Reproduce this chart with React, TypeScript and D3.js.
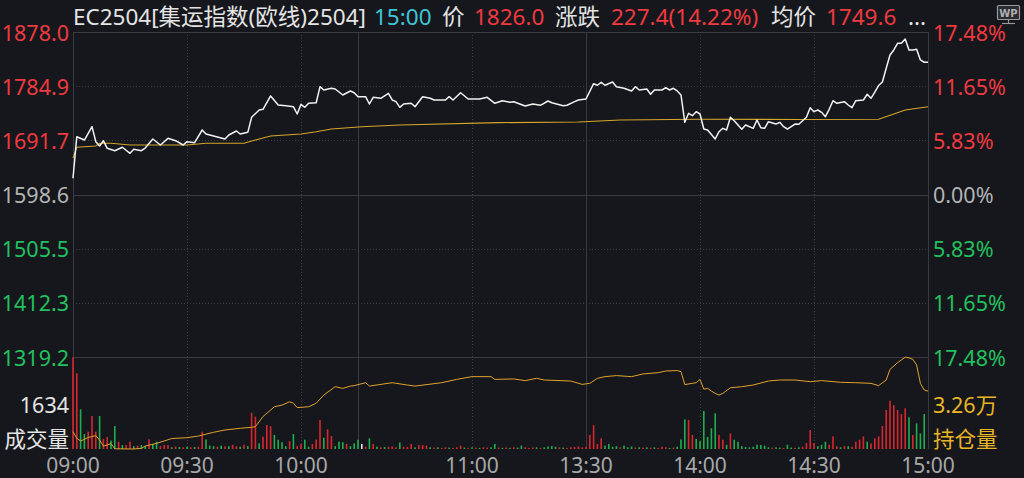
import React from "react";
import * as d3 from "d3";

// ---------- data ----------
const PREV_CLOSE = 1598.6;
const PRICE_MIN = 1319.2;
const PRICE_MAX = 1878.0;
const priceTicks = [1878.0, 1784.9, 1691.7, 1598.6, 1505.5, 1412.3, 1319.2];
const priceTickLabels = ["1878.0", "1784.9", "1691.7", "1598.6", "1505.5", "1412.3", "1319.2"];
const pctTickLabels = ["17.48%", "11.65%", "5.83%", "0.00%", "5.83%", "11.65%", "17.48%"];
const timeTicks = [0, 30, 60, 105, 135, 165, 195, 225];
const timeLabels = ["09:00", "09:30", "10:00", "11:00", "13:30", "14:00", "14:30", "15:00"];
const dottedV = [30, 60, 105, 165, 195];
const solidV = [75, 135];

// price line (minute index, price)
const priceMin = [0,1,3,5,6,7,8,9,11,13,15,16,18,19,21,23,25,27,29,30,32,34,35,37,40,41,43,44,46,47,49,50,52,54,56,58,59,60,61,62,64,65,66,68,69,71,73,74,75,77,78,79,81,83,84,85,86,87,89,90,92,94,95,98,99,100,102,104,107,109,111,113,115,116,119,121,123,125,126,129,130,132,133,135,137,138,139,140,142,143,145,147,148,149,151,152,153,155,156,157,158,159,160,161,162,163,164,165,166,167,169,170,171,172,173,174,176,177,179,180,181,182,183,185,186,187,188,190,191,193,194,195,196,197,198,199,200,201,203,204,205,206,208,209,210,211,212,213,214,215,216,217,218,219,220,221,222,223,224,225];
const priceVal = [1626.5,1698.0,1692.3,1715.2,1689.4,1682.0,1691.1,1678.0,1673.9,1679.8,1669.4,1676.3,1673.9,1678.5,1694.0,1683.7,1695.2,1691.1,1683.7,1689.4,1687.7,1709.5,1702.6,1699.2,1694.0,1700.9,1707.8,1702.6,1705.5,1731.3,1743.9,1745.1,1768.0,1752.5,1751.3,1749.6,1737.0,1753.7,1748.5,1755.4,1756.4,1784.0,1778.3,1781.2,1780.0,1769.7,1776.6,1773.6,1766.8,1766.8,1754.2,1765.7,1764.0,1772.6,1761.1,1758.2,1748.5,1754.2,1755.4,1749.6,1766.8,1764.0,1761.1,1761.1,1766.8,1761.1,1773.6,1762.8,1762.8,1765.7,1755.4,1759.9,1757.1,1758.2,1750.8,1754.2,1752.0,1759.4,1756.4,1751.3,1752.0,1758.2,1761.1,1762.8,1789.1,1786.4,1791.5,1786.4,1792.0,1784.0,1781.2,1776.6,1784.0,1778.3,1780.0,1770.9,1778.3,1778.3,1782.2,1778.3,1781.2,1776.6,1769.7,1722.7,1738.2,1734.1,1741.0,1737.0,1711.2,1709.5,1694.0,1706.6,1712.4,1709.5,1731.3,1725.5,1710.7,1718.1,1712.4,1726.7,1713.5,1712.4,1723.8,1719.8,1722.7,1715.2,1711.2,1719.8,1719.3,1731.3,1747.8,1741.0,1743.9,1739.9,1732.4,1745.1,1759.9,1755.4,1758.2,1752.5,1747.8,1759.9,1761.1,1770.9,1764.0,1774.8,1786.0,1792.0,1815.6,1838.5,1847.1,1858.6,1858.6,1866.0,1847.1,1847.1,1848.3,1829.9,1826.0,1826.0];

// average price line
const avgMin = [0,1,6,7,10,15,30,35,45,48,52,60,64,68,76,86,112,133,144,165,191,212,216,219,225];
const avgVal = [1661.4,1679.8,1682.0,1686.6,1686.6,1683.7,1683.7,1686.6,1686.6,1692.3,1699.2,1702.6,1706.6,1711.2,1715.2,1718.1,1722.1,1723.3,1726.7,1727.9,1727.6,1727.9,1737.0,1743.9,1749.6];

// volume per minute (0..224) and direction (1 up/red, -1 down/green, 0 flat/white)
const volume = [3260,2690,1410,530,615,1170,615,1170,355,425,300,815,260,140,140,260,100,120,140,100,345,180,260,100,140,140,60,90,70,60,80,60,70,80,615,340,120,100,80,120,90,100,150,100,80,150,100,1290,1150,200,435,850,810,500,330,240,100,280,530,100,180,330,80,180,335,1030,400,700,460,100,260,240,180,100,200,330,180,80,380,180,80,60,70,80,90,60,230,80,70,180,60,140,140,120,60,50,60,40,60,50,40,60,120,50,40,60,50,40,60,50,60,180,50,40,50,40,60,50,120,60,40,50,60,40,60,90,100,80,60,50,40,60,70,90,60,80,500,850,180,380,120,180,80,100,60,120,60,90,50,60,50,60,50,60,40,80,60,40,50,80,340,1050,1030,500,360,280,1350,430,735,1265,500,330,150,555,330,260,100,70,60,80,150,140,120,60,50,60,50,40,150,50,40,60,80,210,675,210,100,150,260,150,450,100,60,100,100,80,260,330,450,260,200,380,450,815,1385,1715,1560,1385,1240,1445,1125,500,910,555,1240];
const volDir = [1,1,-1,-1,1,1,1,-1,1,1,-1,-1,1,-1,1,1,-1,1,-1,-1,1,-1,-1,1,1,1,-1,1,-1,1,-1,1,-1,1,1,-1,-1,-1,1,-1,1,-1,1,1,-1,1,-1,1,1,-1,1,1,1,-1,-1,-1,-1,1,-1,1,1,-1,-1,1,1,1,-1,1,1,-1,-1,-1,1,-1,-1,-1,0,1,-1,1,-1,1,-1,1,1,1,-1,1,1,1,-1,1,1,1,-1,1,-1,1,1,-1,1,1,1,-1,1,-1,1,-1,1,1,-1,-1,1,-1,1,-1,1,-1,-1,1,1,1,-1,1,-1,-1,-1,-1,1,-1,1,1,1,1,1,1,1,1,1,1,-1,-1,-1,-1,1,-1,-1,-1,1,-1,1,-1,1,-1,1,1,1,-1,1,-1,-1,-1,1,1,-1,-1,-1,-1,-1,-1,1,1,-1,1,-1,-1,-1,-1,-1,-1,-1,-1,-1,-1,1,-1,-1,1,-1,-1,1,-1,1,1,1,1,-1,-1,-1,1,1,1,-1,1,-1,1,1,1,1,-1,1,1,1,1,1,1,1,1,1,1,-1,1,-1,-1,-1];
const VOL_MAX = 3268;
const volMidLabel = "1634";

// open interest line
const oiMin = [0,1,2,4,6,7,8,9,10,11,16,18,19,22,26,30,33,37,40,44,47,48,50,53,55,57,58,59,62,64,66,69,71,73,74,77,78,84,88,90,97,101,105,110,111,116,119,122,124,131,134,136,138,140,143,147,150,154,156,159,160,161,163,164,165,166,167,168,169,170,171,173,176,179,183,186,190,194,197,202,206,210,212,214,215,217,219,220,221,222,223,224,225];
const oiVal = [31230,30910,30780,30950,31040,30830,30540,30590,30660,30410,30400,30430,30540,30670,30900,30940,31020,31200,31310,31390,31440,31470,31950,32420,32500,32660,32590,32380,32420,32590,32980,33380,33300,33410,33430,33570,33410,33570,33460,33410,33570,33730,33860,33860,33730,33750,33670,33780,33700,33650,33490,33540,33780,33860,33910,33860,33990,34050,34130,34150,34100,33480,33540,33570,33730,33260,33300,33170,33060,32980,33060,33330,33380,33460,33650,33700,33700,33620,33670,33590,33570,33540,33430,33700,34210,34530,34790,34760,34690,34420,33540,33220,33170];
const OI_MIN = 30400;
const OI_MAX = 34800;
const oiMidLabel = "3.26万";

// ---------- styles ----------
const BG = "#15171c";
const RED = "#ee3a40";
const GREEN = "#22c05e";
const GRAY = "#b4b4b4";
const WHITE = "#e4e4e4";
const GRID_SOLID = "#393b41";
const GRID_DOT = "#3a3c42";
const FONT = "'Noto Sans', 'Noto Sans CJK SC', sans-serif";

const L = 73, R = 928, TOP = 32, MID = 357, BOT = 449;

export default function App() {
  const x = d3.scaleLinear().domain([0, 225]).range([L, R]);
  const yP = d3.scaleLinear().domain([PRICE_MIN, PRICE_MAX]).range([MID, TOP]);
  const yV = d3.scaleLinear().domain([0, VOL_MAX]).range([BOT, MID]);
  const yOI = d3.scaleLinear().domain([OI_MIN, OI_MAX]).range([BOT, MID]);

  const priceLine = d3.line<number>().x((d, i) => x(priceMin[i])).y((d) => yP(d))(priceVal) || "";
  const avgLine = d3.line<number>().x((d, i) => x(avgMin[i])).y((d) => yP(d))(avgVal) || "";
  const oiLine = d3.line<number>().x((d, i) => x(oiMin[i])).y((d) => yOI(d))(oiVal) || "";

  const last = priceVal[priceVal.length - 1];
  const chg = last - PREV_CLOSE;
  const chgPct = (chg / PREV_CLOSE) * 100;
  const avgLast = avgVal[avgVal.length - 1];

  const tickColor = (i: number) => (i < 3 ? RED : i === 3 ? GRAY : GREEN);

  const header: [number, string, string][] = [
    [73, "EC2504[集运指数(欧线)2504]", WHITE],
    [374, "15:00", "#3ec6d8"],
    [442, "价", WHITE],
    [474, last.toFixed(1), RED],
    [555, "涨跌", WHITE],
    [611, `${chg.toFixed(1)}(${chgPct.toFixed(2)}%)`, RED],
    [771, "均价", WHITE],
    [826, avgLast.toFixed(1), RED],
    [908, "...", WHITE],
  ];

  return (
    <svg
      width={1024}
      height={478}
      style={{ position: "fixed", left: 0, top: 0, background: BG }}
      fontFamily={FONT}
    >
      <rect x={0} y={0} width={1024} height={478} fill={BG} />

      {/* horizontal grid */}
      {priceTicks.map((t, i) => {
        const solid = i === 0 || i === 3 || i === 6;
        return (
          <line
            key={"h" + i}
            x1={L}
            x2={R}
            y1={Math.round(yP(t)) + 0.5}
            y2={Math.round(yP(t)) + 0.5}
            stroke={solid ? GRID_SOLID : GRID_DOT}
            strokeDasharray={solid ? undefined : "1,2"}
          />
        );
      })}
      {/* vertical grid */}
      {dottedV.map((m) => (
        <line key={"dv" + m} x1={Math.round(x(m)) + 0.5} x2={Math.round(x(m)) + 0.5} y1={TOP} y2={BOT}
          stroke={GRID_DOT} strokeDasharray="1,2" />
      ))}
      {solidV.map((m) => (
        <line key={"sv" + m} x1={Math.round(x(m)) + 0.5} x2={Math.round(x(m)) + 0.5} y1={TOP} y2={BOT}
          stroke={GRID_SOLID} />
      ))}
      <line x1={L + 0.5} x2={L + 0.5} y1={TOP} y2={BOT} stroke={GRID_SOLID} />
      <line x1={R + 0.5} x2={R + 0.5} y1={TOP} y2={BOT} stroke={GRID_SOLID} />

      {/* volume bars */}
      {volume.map((v, i) => (
        <rect
          key={"v" + i}
          x={x(i) - 0.8}
          y={yV(v)}
          width={1.6}
          height={BOT - yV(v)}
          fill={volDir[i] > 0 ? "#d7262e" : volDir[i] < 0 ? "#1fae4e" : "#e0e0e0"}
        />
      ))}

      {/* lines */}
      <path d={oiLine} fill="none" stroke="#e2a12c" strokeWidth={1} />
      <path d={avgLine} fill="none" stroke="#d6a62a" strokeWidth={1.1} />
      <path d={priceLine} fill="none" stroke="#f2f2f2" strokeWidth={1.5} strokeLinejoin="round" />

      {/* left axis labels */}
      {priceTicks.map((t, i) => (
        <text key={"lt" + i} x={69} y={yP(t)} textAnchor="end" dominantBaseline="central"
          fontSize={21.5} fill={tickColor(i)}>
          {priceTickLabels[i]}
        </text>
      ))}
      {/* right axis labels */}
      {priceTicks.map((t, i) => (
        <text key={"rt" + i} x={933} y={yP(t)} textAnchor="start" dominantBaseline="central"
          fontSize={21.5} fill={tickColor(i)}>
          {pctTickLabels[i]}
        </text>
      ))}
      <text x={69} y={404} textAnchor="end" dominantBaseline="central" fontSize={21.5} fill={WHITE}>{volMidLabel}</text>
      <text x={69} y={438} textAnchor="end" dominantBaseline="central" fontSize={21.5} fill={WHITE}>成交量</text>
      <text x={933} y={404} textAnchor="start" dominantBaseline="central" fontSize={21.5} fill="#e8b526">{oiMidLabel}</text>
      <text x={933} y={438} textAnchor="start" dominantBaseline="central" fontSize={21.5} fill="#e8b526">持仓量</text>

      {/* time labels */}
      {timeTicks.map((m, i) => (
        <text key={"tl" + i} x={x(m)} y={465} textAnchor="middle" dominantBaseline="central"
          fontSize={21} fill="#a8a8a8">
          {timeLabels[i]}
        </text>
      ))}

      {/* header */}
      {header.map(([hx, t, c], i) => (
        <text key={"hd" + i} x={hx} y={16} dominantBaseline="central" fontSize={22.5} fill={c}>
          {t}
        </text>
      ))}

      {/* WP icon */}
      <g>
        <rect x={997.5} y={5.5} width={22} height={14} fill="#2a2c31" stroke="#9a9a9a" strokeWidth={1.2} rx={1} />
        <text x={1008.5} y={13} textAnchor="middle" dominantBaseline="central" fontSize={10} fontWeight="bold"
          fontFamily="'DejaVu Sans', sans-serif" fill="#b0b0b0">WP</text>
        <line x1={1008.5} x2={1008.5} y1={19.5} y2={23} stroke="#9a9a9a" strokeWidth={1.2} />
        <line x1={1002} x2={1015} y1={23.5} y2={23.5} stroke="#9a9a9a" strokeWidth={1.2} />
      </g>
    </svg>
  );
}
